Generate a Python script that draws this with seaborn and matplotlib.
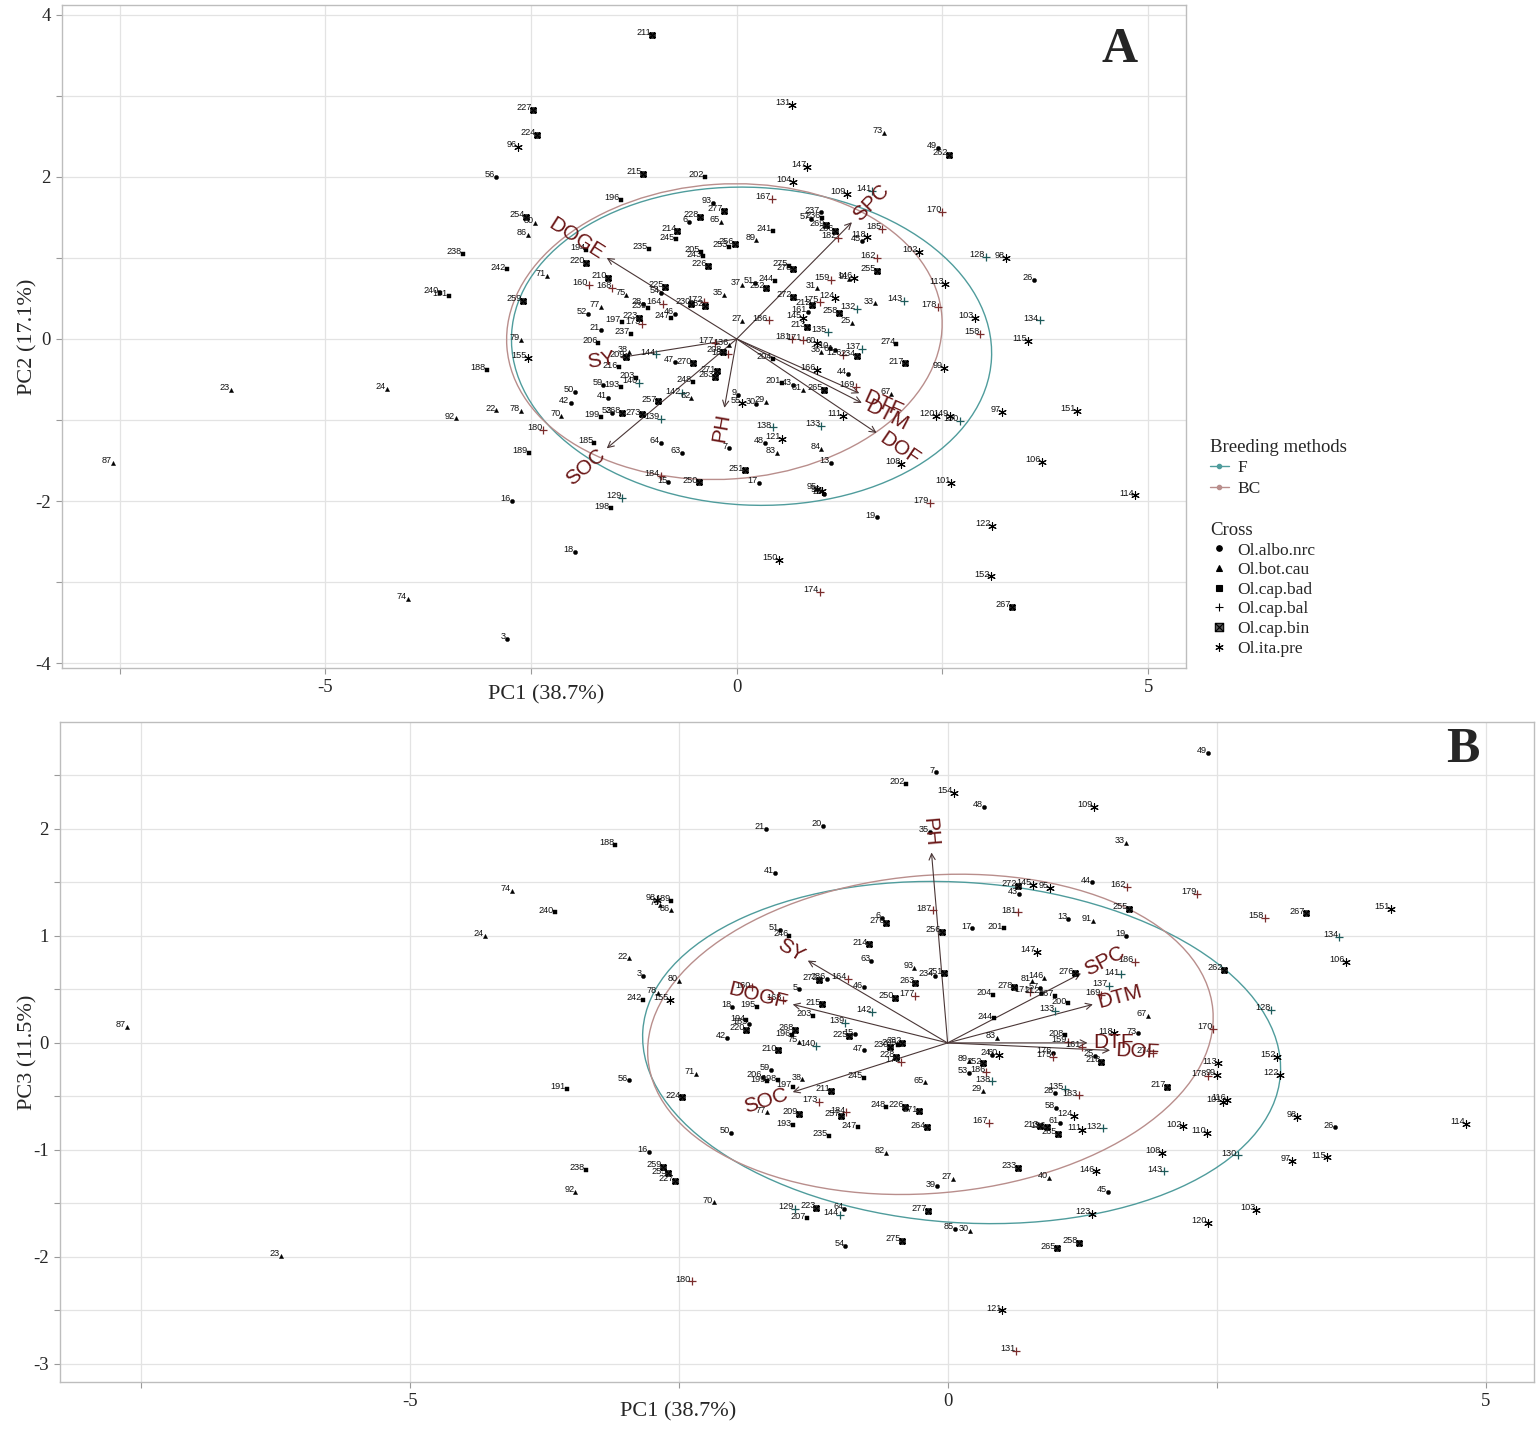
import numpy as np
import pandas as pd
import matplotlib
matplotlib.use("Agg")
import matplotlib.pyplot as plt
import seaborn as sns
from matplotlib.patches import Ellipse
from matplotlib.path import Path
from matplotlib.lines import Line2D

# ---------------- data: panel A (PC1 vs PC2) ----------------
a_lab = ["211","227","224","96","131","73","49","262","56","215","202","147","104","109","141","167","170","196","93","277",
         "228","6","65","254","80","86","214","245","238","194","235","205","243","256","253","220","226","242","71","210",
         "160","168","75","225","54","240","191","259","35","28","239","164","230","172","232","77","52","46","247","223",
         "197","173","21","237","79","206","177","136","38","209","208","187","144","155","47","270","188","216","271","263",
         "203","140","59","193","248","50","41","142","62","257","42","22","78","92","70","199","53","268","273","139",
         "180","185","64","63","7","189","184","15","250","251","16","129","198","18","3","74","87","23","24","237",
         "57","236","269","266","182","45","118","185","241","89","102","128","98","162","255","275","278","37","51","244",
         "252","159","146","91","31","113","26","134","272","175","124","33","143","178","212","161","132","258","27","186",
         "145","25","103","213","135","158","115","181","171","60","36","10","61","126","234","137","274","217","204","166",
         "44","99","201","43","81","265","169","67","9","55","30","29","120","149","130","97","151","111","133","138",
         "121","48","83","84","13","108","106","17","101","114","95","96","28","179","19","122","150","152","174","267"]
a_cross = ["n","n","n","i","i","b","a","n","a","n","d","i","i","i","l","l","l","d","a","n",
           "n","a","b","n","b","b","n","d","d","d","d","d","d","n","d","n","n","d","b","n",
           "l","l","b","n","a","d","d","n","b","a","d","l","n","l","n","b","a","a","d","n",
           "d","l","a","d","b","d","l","b","b","n","n","l","l","i","a","n","d","d","n","n",
           "d","l","a","d","d","a","a","l","b","n","a","b","b","b","b","d","a","n","n","l",
           "l","d","a","a","a","d","l","a","n","n","a","l","d","a","a","b","b","b","b","a",
           "a","d","n","n","l","a","i","l","d","b","i","l","i","l","n","d","n","b","a","d",
           "n","l","i","b","b","i","a","l","n","l","i","b","l","l","n","a","l","n","b","l",
           "i","b","i","n","l","l","i","l","l","i","b","a","a","l","n","l","d","n","d","i",
           "a","i","d","a","b","n","l","b","a","i","a","b","i","i","l","i","i","i","l","l",
           "i","a","b","b","a","i","i","a","i","i","i","i","a","l","a","i","i","i","l","n"]
a_pc1 = [-1.03,-2.48,-2.43,-2.66,0.67,1.79,2.44,2.58,-2.92,-1.14,-0.38,0.86,0.68,1.34,1.65,0.43,2.50,-1.41,-0.29,-0.15,
         -0.45,-0.58,-0.19,-2.56,-2.45,-2.54,-0.72,-0.74,-3.33,-1.83,-1.07,-0.43,-0.41,-0.02,-0.09,-1.83,-0.35,-2.79,-2.31,-1.56,
         -1.80,-1.51,-1.34,-0.87,-0.92,-3.61,-3.50,-2.60,-0.15,-1.14,-1.08,-0.90,-0.55,-0.40,-0.39,-1.65,-1.81,-0.75,-0.80,-1.19,
         -1.40,-1.15,-1.65,-1.29,-2.62,-1.68,-0.27,-0.09,-1.31,-1.35,-0.17,-0.11,-0.98,-2.54,-0.75,-0.53,-3.04,-1.43,-0.24,-0.27,
         -1.22,-1.19,-1.62,-1.41,-0.53,-1.96,-1.56,-0.67,-0.55,-0.96,-2.02,-2.92,-2.62,-3.41,-2.13,-1.65,-1.51,-1.40,-1.15,-0.92,
         -2.35,-1.73,-0.92,-0.67,-0.10,-2.53,-0.92,-0.83,-0.46,0.10,-2.73,-1.39,-1.53,-1.97,-2.79,-4.00,-7.58,-6.15,-4.25,1.02,
         0.90,1.04,1.08,1.20,1.23,1.52,1.58,1.77,0.44,0.24,2.21,3.03,3.27,1.70,1.71,0.63,0.68,0.06,0.22,0.46,
         0.36,1.14,1.42,1.37,0.98,2.53,3.61,3.68,0.68,1.01,1.20,1.68,2.03,2.44,0.91,0.87,1.46,1.24,0.07,0.39,
         0.80,1.40,2.89,0.85,1.11,2.96,3.54,0.67,0.80,0.97,1.03,1.13,1.19,1.29,1.46,1.52,1.94,2.05,0.44,0.97,
         1.35,2.52,0.55,0.68,0.80,1.06,1.45,1.88,0.01,0.07,0.24,0.35,2.42,2.59,2.71,3.22,4.13,1.29,1.03,0.44,
         0.55,0.34,0.49,1.03,1.14,2.00,3.71,0.27,2.61,4.84,0.98,1.04,1.06,2.35,1.70,3.10,0.51,3.09,1.01,3.34]
a_pc2 = [3.75,2.83,2.52,2.37,2.89,2.54,2.36,2.27,2.00,2.04,2.00,2.12,1.94,1.79,1.83,1.73,1.57,1.72,1.68,1.58,
         1.51,1.44,1.44,1.51,1.43,1.28,1.33,1.23,1.05,1.10,1.11,1.07,1.02,1.17,1.14,0.94,0.90,0.86,0.78,0.75,
         0.67,0.63,0.54,0.64,0.57,0.57,0.53,0.47,0.54,0.43,0.38,0.43,0.43,0.46,0.41,0.40,0.31,0.31,0.26,0.26,
         0.21,0.19,0.11,0.06,-0.01,-0.05,-0.05,-0.07,-0.16,-0.22,-0.16,-0.19,-0.19,-0.23,-0.28,-0.30,-0.38,-0.35,-0.40,-0.47,
         -0.48,-0.54,-0.57,-0.59,-0.53,-0.65,-0.73,-0.67,-0.73,-0.77,-0.79,-0.88,-0.89,-0.98,-0.95,-0.96,-0.91,-0.91,-0.93,-0.99,
         -1.12,-1.28,-1.28,-1.41,-1.35,-1.41,-1.69,-1.77,-1.77,-1.62,-2.00,-1.96,-2.09,-2.63,-3.70,-3.21,-1.53,-0.63,-0.62,1.56,
         1.48,1.49,1.40,1.33,1.25,1.21,1.26,1.36,1.33,1.22,1.07,1.01,1.00,1.00,0.84,0.90,0.86,0.67,0.69,0.72,
         0.63,0.73,0.75,0.74,0.63,0.68,0.73,0.23,0.52,0.46,0.51,0.44,0.47,0.40,0.42,0.33,0.37,0.32,0.22,0.23,
         0.26,0.20,0.26,0.15,0.09,0.06,-0.02,0.00,-0.01,-0.05,-0.16,-0.11,-0.14,-0.20,-0.21,-0.12,-0.06,-0.30,-0.25,-0.38,
         -0.43,-0.36,-0.54,-0.57,-0.63,-0.63,-0.59,-0.68,-0.69,-0.79,-0.80,-0.78,-0.95,-0.95,-1.01,-0.90,-0.89,-0.95,-1.07,-1.09,
         -1.23,-1.28,-1.41,-1.36,-1.53,-1.54,-1.52,-1.78,-1.78,-1.93,-1.85,-1.88,-1.91,-2.02,-2.20,-2.31,-2.73,-2.93,-3.12,-3.31]

# ---------------- data: panel B (PC1 vs PC3) ----------------
b_lab = ["87","23","188","74","240","24","98","189","79","86","22","3","80","78","155","242","71","56","191","224",
         "16","259","255","227","238","92","70","180","41","21","20","202","7","154","48","109","49","33","35","6",
         "276","187","51","246","256","214","63","93","234","251","272","236","164","46","263","160","5","177","250","168",
         "18","195","215","142","203","194","185","139","220","268","196","15","225","42","75","140","47","230","205","232",
         "210","228","172","59","206","199","198","38","245","65","197","211","173","248","226","271","77","209","257","184",
         "193","247","264","50","235","82","39","27","129","223","207","64","144","277","54","275","85","30","121","131",
         "272","145","95","43","44","162","179","181","255","158","13","91","17","201","19","267","151","134","106","147",
         "186","141","262","276","146","81","278","171","57","212","137","204","267","169","200","133","128","244","67","83",
         "118","73","208","170","159","161","24","60","176","175","25","218","274","89","252","113","152","53","186","178",
         "99","122","138","217","29","28","135","183","101","116","98","26","114","58","124","167","213","156","61","265",
         "111","132","102","110","108","130","97","115","233","146","143","40","45","103","123","120","258","265"]
b_cross = ["b","b","d","b","d","b","i","d","b","b","b","a","b","b","i","d","b","a","d","n",
           "a","n","n","n","d","b","b","l","a","a","a","d","a","i","a","i","a","b","a","a",
           "n","l","a","d","n","n","a","b","a","n","n","a","l","a","n","l","a","l","n","l",
           "a","d","n","l","d","d","a","l","n","n","d","a","n","a","b","l","a","n","d","n",
           "n","n","l","a","a","d","d","b","d","b","d","n","l","d","n","n","b","n","n","l",
           "d","d","n","a","d","b","a","b","l","n","d","a","l","n","a","n","a","b","i","l",
           "n","i","i","a","a","l","l","l","n","l","a","b","a","d","a","n","i","l","i","i",
           "l","l","n","n","b","b","n","l","a","a","l","d","d","l","d","l","l","d","b","b",
           "i","a","d","l","l","l","a","i","a","l","a","n","l","b","n","i","i","a","l","l",
           "i","i","l","n","b","a","l","l","i","i","i","a","i","a","i","l","n","n","a","n",
           "i","l","i","i","i","l","i","i","n","i","l","b","a","i","i","i","n","n"]
b_pc1 = [-7.63,-6.20,-3.09,-4.05,-3.65,-4.30,-2.70,-2.57,-2.67,-2.57,-2.96,-2.83,-2.50,-2.69,-2.58,-2.83,-2.34,-2.96,-3.54,-2.47,
         -2.78,-2.65,-2.60,-2.53,-3.36,-3.46,-2.17,-2.38,-1.60,-1.69,-1.16,-0.39,-0.11,0.06,0.34,1.36,2.42,1.66,-0.16,-0.61,
         -0.57,-0.14,-1.56,-1.47,-0.05,-0.73,-0.71,-0.31,-0.12,-0.03,-1.20,-1.12,-0.93,-0.78,-0.30,-1.82,-1.38,-0.30,-0.49,-1.53,
         -2.00,-1.77,-1.17,-0.70,-1.25,-1.87,-1.85,-0.95,-1.87,-1.42,-1.45,-0.86,-0.92,-2.05,-1.38,-1.22,-0.78,-0.54,-0.46,-0.42,
         -1.58,-0.48,-0.43,-1.64,-1.72,-1.68,-1.58,-1.35,-0.78,-0.21,-1.44,-1.08,-1.20,-0.57,-0.40,-0.27,-1.68,-1.38,-0.99,-0.94,
         -1.44,-0.83,-0.19,-2.01,-1.10,-0.57,-0.10,0.05,-1.42,-1.22,-1.31,-0.96,-1.00,-0.18,-0.95,-0.42,0.07,0.21,0.51,0.64,
         0.65,0.79,0.95,0.66,1.34,1.67,2.32,0.65,1.69,2.95,1.12,1.35,0.23,0.52,1.66,3.33,4.12,3.64,3.70,0.83,
         1.74,1.61,2.57,1.18,0.90,0.78,0.62,0.77,0.86,0.87,1.50,0.42,1.00,1.43,1.12,1.00,3.01,0.43,1.86,0.46,
         1.55,1.77,1.09,2.47,1.12,1.25,0.41,0.48,0.98,0.98,1.37,1.43,1.91,0.20,0.33,2.51,3.06,0.20,0.36,2.42,
         2.50,3.09,0.41,2.04,0.33,1.00,1.09,1.22,2.56,2.60,3.25,3.60,4.82,1.01,1.17,0.38,0.86,0.92,1.04,1.03,
         1.25,1.44,2.19,2.41,1.99,2.70,3.20,3.53,0.65,1.38,2.01,0.94,1.49,2.87,1.34,2.42,1.22,1.02]
b_pc3 = [0.15,-1.99,1.85,1.42,1.22,1.00,1.34,1.33,1.29,1.24,0.79,0.63,0.58,0.47,0.40,0.40,-0.29,-0.35,-0.43,-0.51,
         -1.02,-1.16,-1.22,-1.29,-1.19,-1.39,-1.49,-2.23,1.59,2.00,2.03,2.42,2.53,2.34,2.21,2.21,2.71,1.87,1.97,1.17,
         1.12,1.24,1.06,1.00,1.04,0.92,0.77,0.70,0.63,0.65,0.59,0.60,0.60,0.52,0.56,0.52,0.50,0.44,0.42,0.40,
         0.34,0.34,0.36,0.29,0.25,0.21,0.18,0.19,0.12,0.12,0.07,0.08,0.06,0.05,0.01,-0.03,-0.07,-0.04,-0.02,0.00,
         -0.07,-0.13,-0.18,-0.25,-0.32,-0.36,-0.35,-0.34,-0.33,-0.37,-0.41,-0.45,-0.55,-0.60,-0.60,-0.64,-0.65,-0.66,-0.68,-0.65,
         -0.77,-0.79,-0.79,-0.84,-0.87,-1.03,-1.34,-1.27,-1.55,-1.54,-1.64,-1.55,-1.61,-1.57,-1.90,-1.85,-1.74,-1.76,-2.50,-2.88,
         1.47,1.48,1.45,1.39,1.50,1.46,1.39,1.22,1.25,1.17,1.16,1.14,1.07,1.07,1.00,1.21,1.25,0.99,0.76,0.85,
         0.76,0.64,0.68,0.65,0.61,0.58,0.52,0.48,0.51,0.47,0.53,0.45,0.44,0.45,0.37,0.30,0.31,0.23,0.25,0.05,
         0.09,0.09,0.07,0.13,0.01,-0.04,-0.11,-0.11,-0.09,-0.13,-0.12,-0.18,-0.09,-0.17,-0.19,-0.19,-0.13,-0.28,-0.27,-0.31,
         -0.30,-0.30,-0.36,-0.41,-0.45,-0.47,-0.43,-0.49,-0.55,-0.53,-0.69,-0.79,-0.76,-0.61,-0.68,-0.75,-0.78,-0.79,-0.75,-0.85,
         -0.81,-0.80,-0.78,-0.84,-1.03,-1.05,-1.10,-1.07,-1.17,-1.20,-1.20,-1.26,-1.39,-1.56,-1.60,-1.68,-1.87,-1.92]

# cap.bal genotypes belonging to the F breeding method (drawn in teal)
bal_F = ["128","129","130","132","133","134","135","137","138","139","140","141","142","143","144"]

# ---------------- loadings (arrows) ----------------
vars_a = ["DOGE", "SPC", "SY", "SOC", "PH", "DTF", "DTM", "DOF"]
load_a_x = [-1.58, 1.40, -1.42, -1.58, -0.15, 1.49, 1.52, 1.70]
load_a_y = [1.00, 1.44, -0.23, -1.35, -0.85, -0.67, -0.79, -1.16]
vars_b = ["PH", "SY", "DOGF", "SOC", "SPC", "DTM", "DTF", "DOF"]
load_b_x = [-0.15, -1.30, -1.44, -1.44, 1.24, 1.35, 1.30, 1.51]
load_b_y = [1.78, 0.77, 0.36, -0.46, 0.65, 0.36, 0.00, -0.07]

# ---------------- group ellipses ----------------
methods = ["F", "BC"]
ell_a_cx = [0.18, -0.15]; ell_a_cy = [-0.09, 0.09]
ell_a_w = [5.84, 5.30];   ell_a_h = [3.92, 3.64];  ell_a_ang = [-3, 4]
ell_b_cx = [0.13, -0.16]; ell_b_cy = [-0.09, 0.08]
ell_b_w = [5.94, 5.27];   ell_b_h = [3.18, 2.97];  ell_b_ang = [-4, 5]

cross_names = {"a": "Ol.albo.nrc", "b": "Ol.bot.cau", "d": "Ol.cap.bad",
               "l": "Ol.cap.bal", "n": "Ol.cap.bin", "i": "Ol.ita.pre"}
cross_order = ["Ol.albo.nrc", "Ol.bot.cau", "Ol.cap.bad", "Ol.cap.bal", "Ol.cap.bin", "Ol.ita.pre"]

# ---------------- style ----------------
sns.set_style("white")
SERIF = ["Liberation Serif", "DejaVu Serif"]
SANS = ["Liberation Sans", "DejaVu Sans"]
plt.rcParams["font.family"] = SERIF
plt.rcParams["axes.unicode_minus"] = False

TEAL = "#4f9c9c"
ROSE = "#b98e8c"
TEAL_D = "#1d5b5b"
ROSE_D = "#7a2c2c"
VARCOL = "#6a1616"
ARROWCOL = "#4a3636"
GRIDCOL = "#e3e3e3"

sq_cross = Path([(-1, -1), (1, -1), (1, 1), (-1, 1), (-1, -1), (-1, -1), (1, 1), (1, -1), (-1, 1)],
                [Path.MOVETO, Path.LINETO, Path.LINETO, Path.LINETO, Path.CLOSEPOLY,
                 Path.MOVETO, Path.LINETO, Path.MOVETO, Path.LINETO])
asterisk = (6, 2, 0)

marker_style = {
    "Ol.albo.nrc": dict(marker="o", s=9, color="black", edgecolor="black", linewidth=0.3),
    "Ol.bot.cau": dict(marker="^", s=9, color="black", edgecolor="black", linewidth=0.3),
    "Ol.cap.bad": dict(marker="s", s=8, color="black", edgecolor="black", linewidth=0.3),
    "Ol.cap.bal": dict(marker="+", s=30, linewidth=0.9),
    "Ol.cap.bin": dict(marker=sq_cross, s=14, color="#555555", edgecolor="black", linewidth=0.9),
    "Ol.ita.pre": dict(marker=asterisk, s=30, color="black", linewidth=0.8),
}


def make_df(lab, cross, x, y):
    df = pd.DataFrame({"label": lab, "code": cross, "x": x, "y": y})
    df["Cross"] = df["code"].map(cross_names)
    df["Method"] = np.where(df["label"].isin(bal_F), "F", "BC")
    return df


def draw_panel(ax, df, vx, vy, vnames, ecx, ecy, ew, eh, eang, xlim, ylim, yticks, yminor):
    ax.set_xlim(*xlim)
    ax.set_ylim(*ylim)
    ax.set_xticks([-5, 0, 5])
    ax.set_xticks([-7.5, -2.5, 2.5], minor=True)
    ax.set_yticks(yticks)
    ax.set_yticks(yminor, minor=True)
    ax.grid(True, which="both", color=GRIDCOL, linewidth=0.9)
    ax.set_axisbelow(True)
    for sp in ax.spines.values():
        sp.set_color("#bdbdbd")
        sp.set_linewidth(1.0)
    ax.tick_params(which="both", length=4, color="#9a9a9a", width=0.8, labelsize=13.5,
                   left=True, bottom=True, pad=4)
    for t in ax.get_xticklabels() + ax.get_yticklabels():
        t.set_family(SERIF)

    # ellipses
    for i, m in enumerate(methods):
        col = TEAL if m == "F" else ROSE
        ax.add_patch(Ellipse((ecx[i], ecy[i]), ew[i], eh[i], angle=eang[i],
                             fill=False, edgecolor=col, linewidth=1.0, zorder=2))

    # points
    for cname in cross_order:
        sub = df[df["Cross"] == cname]
        if sub.empty:
            continue
        st = dict(marker_style[cname])
        if cname == "Ol.cap.bal":
            for m, col in (("F", TEAL_D), ("BC", ROSE_D)):
                s2 = sub[sub["Method"] == m]
                if len(s2):
                    sns.scatterplot(data=s2, x="x", y="y", ax=ax, color=col, legend=False, zorder=4, **st)
        else:
            sns.scatterplot(data=sub, x="x", y="y", ax=ax, legend=False, zorder=4, **st)

    for _, r in df.iterrows():
        ax.annotate(r["label"], (r["x"], r["y"]), xytext=(-0.8, 1.6), textcoords="offset points",
                    ha="right", va="center", fontsize=6.6, family=SANS, color="#111111", zorder=5)

    # loading arrows
    for x1, y1, nm in zip(vx, vy, vnames):
        ax.annotate("", xy=(x1, y1), xytext=(0, 0),
                    arrowprops=dict(arrowstyle="->", color=ARROWCOL, lw=0.8, mutation_scale=11,
                                    shrinkA=0, shrinkB=0), zorder=3)
        ang = np.degrees(np.arctan(y1 / x1)) if x1 != 0 else 90
        d = np.array([x1, y1]) / np.hypot(x1, y1)
        ax.annotate(nm, (x1, y1), xytext=(d[0] * 4, d[1] * 4), textcoords="offset points",
                    rotation=ang, rotation_mode="anchor",
                    ha="left" if x1 >= 0 else "right", va="center",
                    fontsize=15, family=SANS, color=VARCOL, zorder=6)
    ax.set_xlabel("")
    ax.set_ylabel("")


dfa = make_df(a_lab, a_cross, a_pc1, a_pc2)
dfb = make_df(b_lab, b_cross, b_pc1, b_pc3)

fig = plt.figure(figsize=(15.36, 14.30), dpi=100)
W, H = 1536, 1430
axA = fig.add_axes([62 / W, 1 - 668 / H, (1186 - 62) / W, (668 - 5) / H])
axB = fig.add_axes([60 / W, 1 - 1382 / H, (1534 - 60) / W, (1382 - 722) / H])

draw_panel(axA, dfa, load_a_x, load_a_y, vars_a, ell_a_cx, ell_a_cy, ell_a_w, ell_a_h, ell_a_ang,
           (-8.2, 5.46), (-4.06, 4.12), [-4, -2, 0, 2, 4], [-3, -1, 1, 3])
draw_panel(axB, dfb, load_b_x, load_b_y, vars_b, ell_b_cx, ell_b_cy, ell_b_w, ell_b_h, ell_b_ang,
           (-8.25, 5.45), (-3.17, 3.0), [-3, -2, -1, 0, 1, 2], [-2.5, -1.5, -0.5, 0.5, 1.5, 2.5])

# axis titles
for ax, xl, yl, xpos, xoff, yoff in ((axA, "PC1 (38.7%)", "PC2 (17.1%)", (546 - 62) / 1124, -27 / 663, -34 / 1124),
                                      (axB, "PC1 (38.7%)", "PC3 (11.5%)", (678 - 60) / 1474, -30 / 660, -32 / 1474)):
    ax.set_xlabel(xl, fontsize=16, family=SERIF)
    ax.set_ylabel(yl, fontsize=16, family=SERIF)
    ax.xaxis.label.set_va("center")
    ax.yaxis.label.set_va("center")
    ax.xaxis.set_label_coords(xpos, xoff)
    ax.yaxis.set_label_coords(yoff, 0.5)

axA.text((1120 - 62) / 1124, 1 - (50 - 5) / 663, "A", transform=axA.transAxes, ha="center", va="center",
         fontsize=36, fontweight="bold", family=SERIF)
axB.text((1463 - 60) / 1474, 1 - (750 - 722) / 660, "B", transform=axB.transAxes, ha="center", va="center",
         fontsize=36, fontweight="bold", family=SERIF)

# legends
meth_handles = [Line2D([0], [0], color=TEAL, lw=1.0, marker="o", markersize=3, label="F"),
                Line2D([0], [0], color=ROSE, lw=1.0, marker="o", markersize=3, label="BC")]
leg1 = fig.legend(handles=meth_handles, title="Breeding methods", loc="upper left",
                  bbox_to_anchor=(1203 / W, 1 - 432 / H), frameon=False, fontsize=12.5,
                  title_fontsize=13.5, handlelength=1.1, handletextpad=0.5, labelspacing=0.25,
                  borderaxespad=0)
leg1._legend_box.align = "left"

cross_handles = []
for cname in cross_order:
    st = marker_style[cname]
    mk = st["marker"]
    cross_handles.append(Line2D([0], [0], linestyle="none", marker=mk,
                                markersize=4 if cname in ("Ol.albo.nrc", "Ol.bot.cau", "Ol.cap.bad") else 6,
                                markerfacecolor="black" if cname != "Ol.cap.bin" else "#555555",
                                markeredgecolor="black", markeredgewidth=0.8, label=cname))
leg2 = fig.legend(handles=cross_handles, title="Cross", loc="upper left",
                  bbox_to_anchor=(1203 / W, 1 - 515 / H), frameon=False, fontsize=12.5,
                  title_fontsize=13.5, handlelength=1.1, handletextpad=0.5, labelspacing=0.2,
                  borderaxespad=0)
leg2._legend_box.align = "left"

fig.savefig("out.png", dpi=100, facecolor="white")
